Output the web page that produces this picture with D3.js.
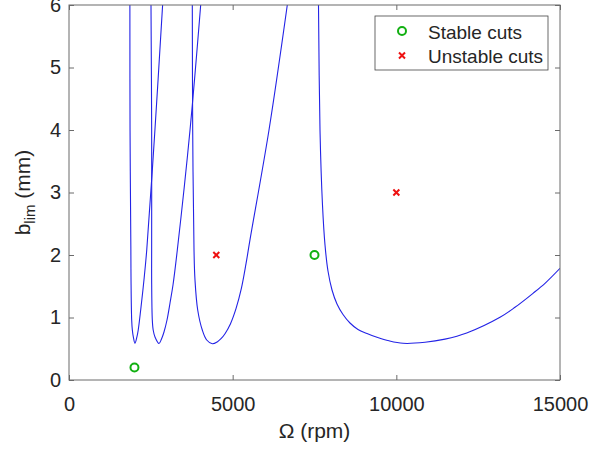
<!DOCTYPE html>
<html lang="en">
<head>
    <meta charset="UTF-8">
    <title>Stability lobes</title>
    <script src="https://d3js.org/d3.v7.min.js"></script>
    <style>
        body { margin: 0; background: #fff; }
        svg { font-family: "Liberation Sans", Arial, sans-serif; }
    </style>
</head>
<body>
    <svg id="chart" width="590" height="451"></svg>
    <script>
        // lobes: spindle speed (rpm) and limiting depth (mm)
        const lobe1Speed = [1860, 1865, 1890, 1895, 1915, 1935, 1965, 2015, 2075, 2115, 2190, 2290, 2375, 2625, 2860];
        const lobe1Depth = [6.0, 4.0, 2.08, 1.6, 0.96, 0.8, 0.69, 0.587, 0.69, 0.8, 1.12, 1.6, 2.08, 4.0, 6.0];
        const lobe2Speed = [2505, 2525, 2525, 2525, 2545, 2572, 2627, 2749, 2826, 2902, 2994, 3086, 3177, 3309, 3697, 4023];
        const lobe2Depth = [6.0, 4.0, 2.08, 1.6, 0.96, 0.8, 0.688, 0.584, 0.656, 0.768, 0.96, 1.232, 1.52, 2.08, 4.0, 6.0];
        const lobe3Speed = [3767, 3779, 3819, 3849, 3932, 4072, 4207, 4378, 4537, 4644, 4766, 4934, 5102, 5264, 5408, 5530, 6110, 6669];
        const lobe3Depth = [6.0, 4.0, 2.08, 1.6, 1.12, 0.8, 0.64, 0.58, 0.613, 0.661, 0.741, 0.901, 1.141, 1.461, 1.861, 2.245, 4.0, 6.0];
        const lobe0Speed = [7622, 7668, 7744, 7821, 7912, 8035, 8187, 8371, 8584, 8829, 9104, 9409, 9776, 10204,
                            10876, 11487, 12150, 13167, 13625, 14175, 14542, 15000];
        const lobe0Depth = [6.0, 4.0, 2.8, 2.16, 1.744, 1.44, 1.216, 1.048, 0.912, 0.808, 0.744, 0.685, 0.627, 0.587,
                            0.603, 0.654, 0.752, 1.003, 1.163, 1.387, 1.547, 1.787];

        const stableSpeed = [2000, 7500];
        const stableDepth = [0.2, 2];
        const unstableSpeed = [4500, 10000];
        const unstableDepth = [2, 3];

        const xTicks = [0, 5000, 10000, 15000];
        const yTicks = [0, 1, 2, 3, 4, 5, 6];

        const svg = d3.select("#chart"),
              pLeft = 69, pRight = 560, pTop = 5, pBottom = 380;

        const x = d3.scaleLinear().domain([0, 15000]).range([pLeft, pRight]);
        const y = d3.scaleLinear().domain([0, 6]).range([pBottom, pTop]);

        const axisColor = "#6b6b6b", textColor = "#262626";

        svg.append("defs").append("clipPath").attr("id", "plot")
            .append("rect")
            .attr("x", pLeft).attr("y", pTop)
            .attr("width", pRight - pLeft).attr("height", pBottom - pTop);

        // lobes
        const line = d3.line()
            .x(d => x(d[0]))
            .y(d => y(d[1]))
            .curve(d3.curveCatmullRom.alpha(0.5));

        const lobes = [
            [lobe1Speed, lobe1Depth],
            [lobe2Speed, lobe2Depth],
            [lobe3Speed, lobe3Depth],
            [lobe0Speed, lobe0Depth]
        ];

        svg.append("g").attr("clip-path", "url(#plot)")
            .selectAll("path")
            .data(lobes)
            .join("path")
            .attr("d", l => line(d3.zip(l[0], l[1])))
            .attr("fill", "none")
            .attr("stroke", "#2323e6")
            .attr("stroke-width", 1.1);

        // axes
        function styleAxis(g) {
            g.select(".domain").remove();
            g.selectAll(".tick line").attr("stroke", axisColor);
            g.selectAll(".tick text").attr("fill", textColor).style("font-size", "20px");
        }

        svg.append("g")
            .attr("transform", `translate(0,${pBottom})`)
            .call(d3.axisBottom(x).tickValues(xTicks).tickFormat(d3.format("d"))
                .tickSizeInner(-5).tickSizeOuter(0).tickPadding(17))
            .call(styleAxis);

        svg.append("g")
            .attr("transform", `translate(0,${pTop})`)
            .call(d3.axisTop(x).tickValues(xTicks).tickFormat("")
                .tickSizeInner(-5).tickSizeOuter(0))
            .call(styleAxis);

        svg.append("g")
            .attr("transform", `translate(${pLeft},0)`)
            .call(d3.axisLeft(y).tickValues(yTicks).tickFormat(d3.format("d"))
                .tickSizeInner(-5).tickSizeOuter(0).tickPadding(8))
            .call(styleAxis);

        svg.append("g")
            .attr("transform", `translate(${pRight},0)`)
            .call(d3.axisRight(y).tickValues(yTicks).tickFormat("")
                .tickSizeInner(-5).tickSizeOuter(0))
            .call(styleAxis);

        svg.append("rect")
            .attr("x", pLeft).attr("y", pTop)
            .attr("width", pRight - pLeft).attr("height", pBottom - pTop)
            .attr("fill", "none")
            .attr("stroke", axisColor)
            .attr("stroke-width", 1);

        // cut markers
        const green = "#12b012", red = "#ee1111";

        function cross(g, cx, cy, s) {
            g.append("path")
                .attr("d", `M${cx - s},${cy - s}L${cx + s},${cy + s}M${cx - s},${cy + s}L${cx + s},${cy - s}`)
                .attr("stroke", red).attr("stroke-width", 2).attr("fill", "none");
        }

        svg.append("g").selectAll("circle")
            .data(d3.zip(stableSpeed, stableDepth))
            .join("circle")
            .attr("cx", d => x(d[0]))
            .attr("cy", d => y(d[1]))
            .attr("r", 4)
            .attr("fill", "none")
            .attr("stroke", green)
            .attr("stroke-width", 2);

        const crosses = svg.append("g");
        d3.zip(unstableSpeed, unstableDepth).forEach(d => cross(crosses, x(d[0]), y(d[1]), 3));

        // labels
        svg.append("text")
            .attr("x", (pLeft + pRight) / 2)
            .attr("y", 438)
            .attr("text-anchor", "middle")
            .attr("fill", textColor)
            .style("font-size", "21px")
            .text("Ω (rpm)");

        const yl = svg.append("text")
            .attr("transform", `translate(30,${(pTop + pBottom) / 2}) rotate(-90)`)
            .attr("text-anchor", "middle")
            .attr("fill", textColor)
            .style("font-size", "21px");
        yl.append("tspan").text("b");
        yl.append("tspan").attr("dy", 5).style("font-size", "15px").text("lim");
        yl.append("tspan").attr("dy", -5).text(" (mm)");

        // legend
        const lg = svg.append("g");
        lg.append("rect")
            .attr("x", 375).attr("y", 16)
            .attr("width", 173).attr("height", 54)
            .attr("fill", "#fff")
            .attr("stroke", "#444")
            .attr("stroke-width", 0.8);
        lg.append("circle")
            .attr("cx", 402).attr("cy", 31).attr("r", 4)
            .attr("fill", "none").attr("stroke", green).attr("stroke-width", 2);
        cross(lg, 402, 55.5, 3);
        lg.append("text").attr("x", 428).attr("y", 39)
            .attr("fill", textColor).style("font-size", "19px").text("Stable cuts");
        lg.append("text").attr("x", 428).attr("y", 63)
            .attr("fill", textColor).style("font-size", "19px").text("Unstable cuts");
    </script>
</body>
</html>
